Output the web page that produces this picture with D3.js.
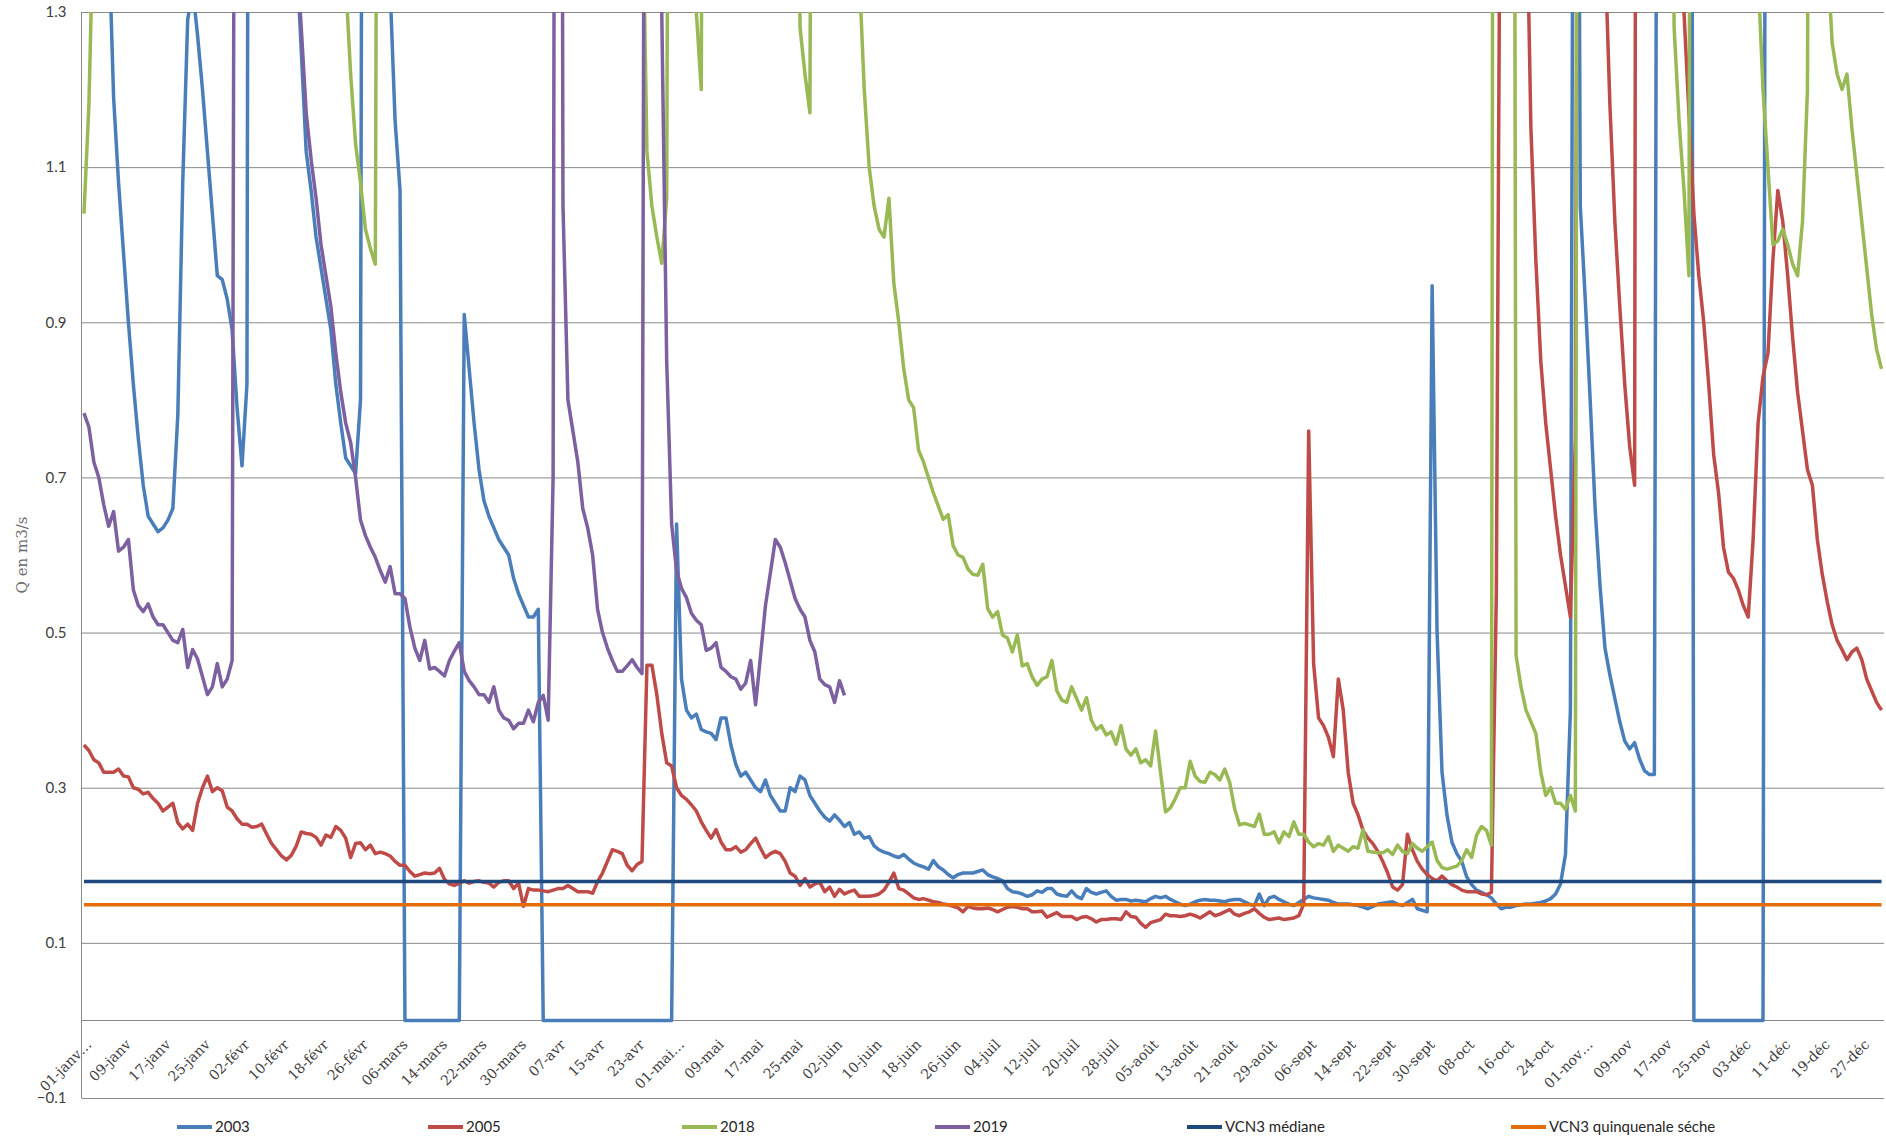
<!DOCTYPE html>
<html>
<head>
<meta charset="utf-8">
<script src="https://cdn.jsdelivr.net/npm/d3@7"></script>
<style>
  body { margin: 0; background: #fff; }
  .chart svg { display: block; }
</style>
</head>
<body>
<div class="chart"></div>
<script>
// daily flows, one value per day from 01-janv (values above 1.3 run off the top of the chart)
const q2003 = [
  2.6, 2.4, 2.2, 2.0, 1.8, 1.4, 1.19, 1.08, 0.99, 0.90,
  0.82, 0.75, 0.69, 0.65, 0.64, 0.63, 0.635, 0.645, 0.66, 0.78,
  1.08, 1.29, 1.33, 1.27, 1.2, 1.12, 1.04, 0.96, 0.955, 0.93,
  0.89, 0.79, 0.715, 0.82, 4.0, 4.2, 4.0, 3.6, 3.2, 2.8,
  2.4, 2.0, 1.7, 1.38, 1.25, 1.12, 1.07, 1.01, 0.97, 0.93,
  0.89, 0.82, 0.77, 0.725, 0.715, 0.705, 0.80, 3.5, 3.2, 2.6,
  2.0, 1.6, 1.33, 1.16, 1.07, 0, 0, 0, 0, 0,
  0, 0, 0, 0, 0, 0, 0, 0.91, 0.84, 0.77,
  0.71, 0.67, 0.65, 0.635, 0.62, 0.61, 0.60, 0.57, 0.55, 0.535,
  0.52, 0.52, 0.53, 0, 0, 0, 0, 0, 0, 0,
  0, 0, 0, 0, 0, 0, 0, 0, 0, 0,
  0, 0, 0, 0, 0, 0, 0, 0, 0, 0,
  0.64, 0.44, 0.40, 0.39, 0.395, 0.375, 0.372, 0.37, 0.362, 0.39,
  0.39, 0.355, 0.33, 0.315, 0.32, 0.31, 0.30, 0.295, 0.31, 0.29,
  0.28, 0.27, 0.27, 0.30, 0.295, 0.315, 0.31, 0.29, 0.28, 0.27,
  0.262, 0.257, 0.265, 0.258, 0.25, 0.255, 0.24, 0.243, 0.235, 0.237,
  0.225, 0.22, 0.217, 0.215, 0.212, 0.21, 0.214, 0.208, 0.203, 0.20,
  0.198, 0.195, 0.206, 0.198, 0.194, 0.188, 0.184, 0.188, 0.19, 0.19,
  0.19, 0.192, 0.194, 0.188, 0.185, 0.183, 0.18, 0.17, 0.166, 0.165,
  0.163, 0.16, 0.162, 0.167, 0.165, 0.17, 0.17, 0.163, 0.161, 0.16,
  0.167, 0.16, 0.157, 0.17, 0.165, 0.163, 0.165, 0.167, 0.16, 0.155,
  0.156, 0.156, 0.154, 0.155, 0.154, 0.153, 0.157, 0.16, 0.158, 0.16,
  0.156, 0.153, 0.15, 0.148, 0.15, 0.153, 0.155, 0.156, 0.155, 0.155,
  0.154, 0.153, 0.155, 0.156, 0.156, 0.153, 0.15, 0.148, 0.163, 0.148,
  0.158, 0.16, 0.156, 0.153, 0.15, 0.148, 0.152, 0.156, 0.16, 0.158,
  0.157, 0.156, 0.155, 0.152, 0.15, 0.15, 0.15, 0.149, 0.148, 0.146,
  0.144, 0.147, 0.15, 0.151, 0.152, 0.153, 0.15, 0.148, 0.152, 0.156,
  0.144, 0.142, 0.14, 0.947, 0.50, 0.32, 0.265, 0.23, 0.215, 0.205,
  0.185, 0.175, 0.168, 0.165, 0.162, 0.158, 0.15, 0.144, 0.146, 0.146,
  0.148, 0.149, 0.15, 0.15, 0.151, 0.152, 0.154, 0.157, 0.163, 0.176,
  0.214, 0.40, 2.6, 1.05, 0.93, 0.80, 0.66, 0.56, 0.48, 0.445,
  0.415, 0.385, 0.36, 0.35, 0.358, 0.337, 0.322, 0.317, 0.317, 3.0,
  3.2, 3.4, 3.5, 3.6, 3.8, 4.0, 0, 0, 0, 0,
  0, 0, 0, 0, 0, 0, 0, 0, 0, 0,
  0, 3.5, 3.5, 3.4, 3.3, 3.2, 3.1, 3.0, 3.0, 3.0,
  3.0, 3.0, 3.0, 3.0, 3.0, 3.0, 3.0, 3.0, 3.0, 3.0,
  3.0, 3.0, 3.0, 3.0, 3.0
]

const q2005 = [
  0.355, 0.348, 0.336, 0.332, 0.32, 0.32, 0.32, 0.324, 0.315, 0.314,
  0.30, 0.298, 0.292, 0.294, 0.286, 0.28, 0.27, 0.275, 0.28, 0.255,
  0.247, 0.253, 0.245, 0.28, 0.30, 0.315, 0.295, 0.30, 0.296, 0.275,
  0.27, 0.26, 0.253, 0.253, 0.249, 0.25, 0.253, 0.24, 0.228, 0.22,
  0.212, 0.207, 0.213, 0.225, 0.243, 0.241, 0.24, 0.236, 0.226, 0.239,
  0.236, 0.25, 0.245, 0.235, 0.21, 0.228, 0.229, 0.22, 0.226, 0.215,
  0.217, 0.215, 0.212, 0.205, 0.20, 0.20, 0.192, 0.186, 0.188, 0.19,
  0.189, 0.19, 0.196, 0.182, 0.176, 0.174, 0.177, 0.18, 0.177, 0.179,
  0.18, 0.178, 0.177, 0.172, 0.178, 0.18, 0.18, 0.17, 0.177, 0.147,
  0.17, 0.168, 0.168, 0.167, 0.166, 0.168, 0.17, 0.17, 0.174, 0.17,
  0.166, 0.166, 0.166, 0.164, 0.179, 0.19, 0.205, 0.22, 0.218, 0.215,
  0.20, 0.193, 0.201, 0.205, 0.458, 0.458, 0.42, 0.37, 0.332, 0.328,
  0.30, 0.29, 0.285, 0.278, 0.27, 0.256, 0.245, 0.235, 0.246, 0.23,
  0.22, 0.22, 0.224, 0.217, 0.22, 0.228, 0.235, 0.222, 0.21, 0.215,
  0.218, 0.215, 0.205, 0.19, 0.186, 0.174, 0.183, 0.172, 0.176, 0.178,
  0.166, 0.172, 0.16, 0.169, 0.163, 0.166, 0.168, 0.16, 0.16, 0.16,
  0.161, 0.163, 0.168, 0.178, 0.19, 0.17, 0.168, 0.163, 0.158, 0.156,
  0.157, 0.155, 0.153, 0.152, 0.15, 0.149, 0.147, 0.145, 0.14, 0.147,
  0.145, 0.144, 0.144, 0.145, 0.143, 0.14, 0.143, 0.146, 0.147, 0.146,
  0.144, 0.144, 0.14, 0.14, 0.141, 0.133, 0.136, 0.139, 0.134, 0.134,
  0.134, 0.13, 0.133, 0.134, 0.131, 0.127, 0.13, 0.13, 0.131, 0.131,
  0.13, 0.14, 0.134, 0.133, 0.125, 0.12, 0.126, 0.128, 0.13, 0.137,
  0.135, 0.135, 0.134, 0.135, 0.137, 0.135, 0.132, 0.136, 0.14, 0.135,
  0.137, 0.14, 0.143, 0.137, 0.135, 0.138, 0.14, 0.144, 0.138, 0.133,
  0.13, 0.131, 0.132, 0.13, 0.131, 0.132, 0.135, 0.15, 0.76, 0.46,
  0.39, 0.38, 0.365, 0.34, 0.44, 0.40, 0.32, 0.28, 0.265, 0.245,
  0.235, 0.228, 0.218, 0.205, 0.19, 0.172, 0.168, 0.175, 0.24, 0.22,
  0.205, 0.195, 0.188, 0.183, 0.18, 0.186, 0.18, 0.175, 0.172, 0.168,
  0.166, 0.166, 0.166, 0.163, 0.162, 0.165, 0.55, 1.8, 2.5, 3.0,
  3.0, 2.6, 1.5, 1.15, 0.98, 0.85, 0.77, 0.71, 0.65, 0.60,
  0.56, 0.52, 0.75, 3.0, 3.2, 3.0, 2.5, 1.9, 1.38, 1.18,
  1.03, 0.92, 0.82, 0.74, 0.69, 5.0, 4.0, 3.5, 3.0, 2.8,
  2.5, 2.2, 2.0, 1.7, 1.3, 1.17, 1.04, 0.96, 0.90, 0.82,
  0.73, 0.68, 0.61, 0.578, 0.57, 0.555, 0.535, 0.52, 0.62, 0.77,
  0.83, 0.86, 0.98, 1.07, 1.03, 0.96, 0.88, 0.81, 0.76, 0.71,
  0.69, 0.62, 0.575, 0.54, 0.51, 0.49, 0.478, 0.465, 0.475, 0.48,
  0.465, 0.44, 0.425, 0.41, 0.40
]

const q2018 = [
  1.04, 1.18, 1.45, 3, 3, 3, 3, 3, 3, 3,
  3, 3, 3, 3, 3, 3, 3, 3, 3, 3,
  3, 3, 3, 3, 3, 3, 3, 3, 3, 3,
  3, 3, 3, 3, 3, 3, 3, 3, 3, 3,
  3, 3, 3, 3, 3, 3, 3, 3, 3, 3,
  3, 3, 1.6, 1.34, 1.22, 1.13, 1.08, 1.02, 0.995, 0.975,
  3, 3, 3, 3, 3, 3, 3, 3, 3, 3,
  3, 3, 3, 3, 3, 3, 3, 3, 3, 3,
  3, 3, 3, 3, 3, 3, 3, 3, 3, 3,
  3, 3, 3, 3, 3, 3, 3, 3, 3, 3,
  3, 3, 3, 3, 3, 3, 3, 3, 3, 3,
  3, 3, 3, 1.5, 1.12, 1.05, 1.01, 0.976, 1.06, 3,
  3, 3, 3, 3, 1.3, 1.2, 3, 3, 3, 3,
  3, 3, 3, 3, 3, 3, 3, 3, 3, 3,
  3, 3, 3, 3, 3, 1.28, 1.22, 1.17, 3, 3,
  3, 3, 3, 3, 3, 3, 3, 1.35, 1.2, 1.1,
  1.05, 1.02, 1.01, 1.06, 0.95, 0.90, 0.84, 0.80, 0.79, 0.735,
  0.72, 0.70, 0.68, 0.663, 0.646, 0.652, 0.612, 0.60, 0.597, 0.582,
  0.575, 0.574, 0.588, 0.531, 0.52, 0.527, 0.497, 0.493, 0.475, 0.497,
  0.457, 0.46, 0.443, 0.432, 0.44, 0.443, 0.464, 0.425, 0.413, 0.41,
  0.43, 0.415, 0.40, 0.416, 0.387, 0.375, 0.38, 0.368, 0.372, 0.356,
  0.38, 0.35, 0.342, 0.35, 0.332, 0.336, 0.328, 0.373, 0.32, 0.269,
  0.274, 0.286, 0.30, 0.30, 0.334, 0.315, 0.308, 0.307, 0.32, 0.317,
  0.31, 0.324, 0.307, 0.273, 0.252, 0.254, 0.252, 0.25, 0.266, 0.24,
  0.24, 0.243, 0.229, 0.243, 0.237, 0.256, 0.24, 0.24, 0.23, 0.224,
  0.228, 0.226, 0.237, 0.218, 0.226, 0.222, 0.218, 0.224, 0.222, 0.246,
  0.218, 0.217, 0.216, 0.216, 0.22, 0.214, 0.226, 0.218, 0.215, 0.228,
  0.222, 0.218, 0.224, 0.23, 0.206, 0.197, 0.195, 0.197, 0.199, 0.206,
  0.22, 0.21, 0.239, 0.25, 0.245, 0.226, 5, 4, 4, 4,
  0.47, 0.43, 0.40, 0.385, 0.37, 0.32, 0.29, 0.30, 0.28, 0.28,
  0.272, 0.29, 0.27, 4, 3, 3, 3, 3, 3, 3,
  3, 3, 3, 3, 3, 3, 3, 3, 3, 3,
  3, 2.0, 1.28, 1.16, 1.07, 0.96, 4, 3, 3, 3,
  3, 3, 3, 3, 3, 3, 3, 3, 2.0, 1.35,
  1.2, 1.1, 1.0, 1.005, 1.02, 1.0, 0.975, 0.96, 1.03, 1.2,
  3, 3, 3, 1.38, 1.26, 1.22, 1.2, 1.22, 1.15, 1.09,
  1.03, 0.97, 0.91, 0.865, 0.84
]

const q2019 = [
  0.783, 0.765, 0.72, 0.70, 0.665, 0.637, 0.656, 0.605, 0.61, 0.62,
  0.555, 0.535, 0.527, 0.537, 0.52, 0.51, 0.51, 0.50, 0.49, 0.487,
  0.504, 0.455, 0.478, 0.466, 0.443, 0.42, 0.43, 0.46, 0.43, 0.44,
  0.464, 3, 3, 3, 3, 3, 3, 3, 3, 3,
  3, 2.0, 1.6, 1.38, 1.28, 1.17, 1.11, 1.06, 1.0, 0.96,
  0.92, 0.86, 0.81, 0.77, 0.745, 0.70, 0.645, 0.625, 0.61, 0.597,
  0.58, 0.565, 0.585, 0.55, 0.55, 0.544, 0.507, 0.48, 0.464, 0.49,
  0.453, 0.455, 0.45, 0.444, 0.464, 0.476, 0.487, 0.45, 0.438, 0.43,
  0.42, 0.42, 0.41, 0.43, 0.40, 0.39, 0.387, 0.376, 0.383, 0.383,
  0.40, 0.385, 0.41, 0.419, 0.387, 0.70, 4, 1.05, 0.80, 0.76,
  0.72, 0.66, 0.635, 0.60, 0.53, 0.50, 0.48, 0.464, 0.45, 0.45,
  0.457, 0.465, 0.455, 0.447, 3, 3, 3, 1.3, 0.85, 0.64,
  0.58, 0.557, 0.545, 0.525, 0.516, 0.51, 0.477, 0.48, 0.487, 0.455,
  0.45, 0.443, 0.44, 0.427, 0.435, 0.464, 0.407, 0.47, 0.535, 0.577,
  0.62, 0.61, 0.59, 0.567, 0.544, 0.53, 0.52, 0.49, 0.475, 0.44,
  0.433, 0.43, 0.41, 0.438, 0.419
]

const vcn3Mediane = 0.179
const vcn3Quinquenale = 0.149

const dayCount = 365
const labelStep = 8
const xLabels = ['01-janv…', '09-janv', '17-janv', '25-janv', '02-févr', '10-févr', '18-févr', '26-févr',
  '06-mars', '14-mars', '22-mars', '30-mars', '07-avr', '15-avr', '23-avr', '01-mai…', '09-mai', '17-mai',
  '25-mai', '02-juin', '10-juin', '18-juin', '26-juin', '04-juil', '12-juil', '20-juil', '28-juil', '05-août',
  '13-août', '21-août', '29-août', '06-sept', '14-sept', '22-sept', '30-sept', '08-oct', '16-oct', '24-oct',
  '01-nov…', '09-nov', '17-nov', '25-nov', '03-déc', '11-déc', '19-déc', '27-déc']
const yTicks = [1.3, 1.1, 0.9, 0.7, 0.5, 0.3, 0.1, -0.1]

const seriesNames = ['2003', '2005', '2018', '2019', 'VCN3 médiane', 'VCN3 quinquenale séche']
const colors = ['#4A7EBB', '#BE4B48', '#98B954', '#7D60A0', '#1F497D', '#E46C0A']

const width = 1886
const height = 1143
const margin = { top: 12, left: 81.5, right: 2, bottom: 45 }
const plotBottom = height - margin.bottom
const plotRight = width - margin.right

const svg = d3.select('.chart')
  .append('svg')
  .attr('width', width)
  .attr('height', height)

const days = d3.range(dayCount)

const x = d3.scalePoint()
  .domain(days)
  .range([margin.left, plotRight])
  .padding(0.5)

const y = d3.scaleLinear()
  .domain([-0.1, 1.3])
  .range([plotBottom, margin.top])

// gridlines
svg.append('g')
  .attr('transform', `translate(${margin.left},0)`)
  .call(d3.axisLeft(y).tickValues(yTicks).tickSize(-(plotRight - margin.left)).tickFormat(''))
  .call(g => g.select('.domain').remove())
  .call(g => g.selectAll('line').attr('stroke', '#898989').attr('stroke-width', 1))

// y labels
svg.append('g')
  .attr('transform', `translate(${margin.left},0)`)
  .call(d3.axisLeft(y).tickValues(yTicks).tickSize(0).tickPadding(15).tickFormat(d3.format('.1f')))
  .attr('font-family', 'Lato, "Liberation Sans", sans-serif')
  .attr('font-size', 15)
  .call(g => g.select('.domain').remove())
  .call(g => g.selectAll('text').attr('fill', '#404040'))

// axis lines
svg.append('line')
  .attr('x1', margin.left).attr('x2', margin.left)
  .attr('y1', margin.top).attr('y2', plotBottom)
  .attr('stroke', '#898989')

svg.append('line')
  .attr('x1', margin.left).attr('x2', plotRight)
  .attr('y1', Math.round(y(0)) + 0.5).attr('y2', Math.round(y(0)) + 0.5)
  .attr('stroke', '#898989')

// category labels
const xAxis = svg.append('g')
  .attr('transform', `translate(0,${y(0)})`)
  .call(d3.axisBottom(x)
    .tickValues(d3.range(0, dayCount, labelStep))
    .tickSize(0)
    .tickFormat(d => xLabels[d / labelStep]))
  .attr('font-family', '"DejaVu Serif", serif')
  .attr('font-size', 14)

xAxis.select('.domain').remove()
xAxis.selectAll('text')
  .attr('y', 0)
  .attr('dy', 0)
  .attr('fill', '#404040')
  .attr('text-anchor', 'end')
  .attr('transform', 'translate(8,25) rotate(-45)')

// y title
svg.append('text')
  .attr('transform', `translate(27,${(margin.top + plotBottom) / 2}) rotate(-90)`)
  .attr('text-anchor', 'middle')
  .attr('font-family', '"DejaVu Serif", serif')
  .attr('font-size', 15)
  .attr('fill', '#6e6e6e')
  .text('Q en m3/s')

svg.append('clipPath')
  .attr('id', 'plot-clip')
  .append('rect')
  .attr('x', margin.left)
  .attr('y', margin.top)
  .attr('width', plotRight - margin.left)
  .attr('height', plotBottom - margin.top)

const line = d3.line()
  .x((d, i) => x(i))
  .y(d => y(d))

const lines = svg.append('g')
  .attr('clip-path', 'url(#plot-clip)')

const flows = [q2003, q2005, q2018, q2019]

lines.selectAll('path.flow')
  .data(flows)
  .enter()
  .append('path')
  .attr('class', 'flow')
  .attr('d', d => line(d))
  .attr('fill', 'none')
  .attr('stroke', (d, i) => colors[i])
  .attr('stroke-width', 3.5)
  .attr('stroke-linejoin', 'round')

lines.selectAll('line.ref')
  .data([vcn3Mediane, vcn3Quinquenale])
  .enter()
  .append('line')
  .attr('class', 'ref')
  .attr('x1', x(0))
  .attr('x2', x(dayCount - 1))
  .attr('y1', d => y(d))
  .attr('y2', d => y(d))
  .attr('stroke', (d, i) => colors[4 + i])
  .attr('stroke-width', 3.5)

// legend
const legendX = [177, 428, 682, 935, 1187, 1511]
const legendY = 1127

const legend = svg.selectAll('g.legend')
  .data(seriesNames)
  .enter()
  .append('g')
  .attr('class', 'legend')
  .attr('transform', (d, i) => `translate(${legendX[i]},${legendY})`)

legend.append('line')
  .attr('x1', 0).attr('x2', 35)
  .attr('stroke', (d, i) => colors[i])
  .attr('stroke-width', 4)

legend.append('text')
  .attr('x', 38)
  .attr('dy', '0.35em')
  .attr('font-family', 'Lato, "Liberation Sans", sans-serif')
  .attr('font-size', 15)
  .attr('fill', '#262626')
  .text(d => d)
</script>
</body>
</html>
